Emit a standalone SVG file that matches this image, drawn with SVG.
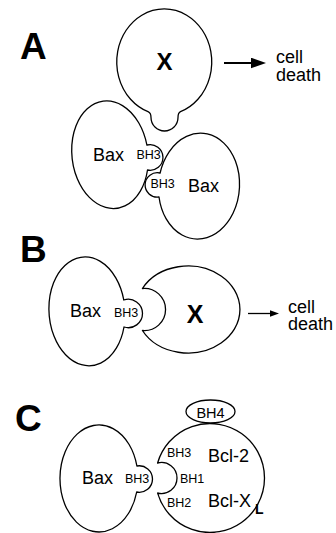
<svg xmlns="http://www.w3.org/2000/svg" width="336" height="533" viewBox="0 0 336 533">
<style>
.s{fill:#fff;stroke:#000;stroke-width:1.3;stroke-linejoin:round}
.t{font-family:"Liberation Sans",Arial,sans-serif;fill:#000}
.lab{font-size:37px;font-weight:bold}
.nm{font-size:18px}
.bh{font-size:12.5px}
.xb{font-size:24px;font-weight:bold}
.ar{stroke:#000;fill:none}
</style>
<defs>
<marker id="ah" viewBox="0 0 7 5" refX="3" refY="2.5" markerWidth="7" markerHeight="5" orient="auto" markerUnits="strokeWidth"><path d="M0,0 L7,2.5 L0,5 z" fill="#000"/></marker>
</defs>
<rect width="336" height="533" fill="#fff"/>

<!-- Panel A -->
<text class="t lab" x="20" y="59">A</text>
<g id="A-X">
<path class="s" d="M148,111.7 A47.5 53 0 1 1 180.5,111.7 Q178,113 178,117.5 A13.5 13.5 0 0 1 151,117.5 Q151,113 148,111.7 Z"/>
<text class="t xb" x="164.5" y="70" text-anchor="middle">X</text>
</g>
<g id="A-Bax1">
<path class="s" d="M146.9,145 A38 54 -7 1 0 147.5,170 A12.84 12.84 0 1 0 146.9,145 Z"/>
<text class="t nm" x="93" y="161">Bax</text>
<text class="t bh" x="136.5" y="159">BH3</text>
</g>
<g id="A-Bax2">
<path class="s" d="M160.1,173 A12.22 12.22 0 1 0 159,197 A40.5 53 4 1 0 160.1,173 Z"/>
<text class="t nm" x="188" y="192">Bax</text>
<text class="t bh" x="150.5" y="188">BH3</text>
</g>
<g id="A-text">
<text class="t nm" x="276" y="63">cell</text>
<text class="t nm" x="276" y="81">death</text>
</g>

<!-- Panel B -->
<text class="t lab" x="20" y="262">B</text>
<g id="B-Bax">
<path class="s" d="M123.8,300 A38 54.5 -4 1 0 124,327 A14.2 14.2 0 1 0 123.8,300 Z"/>
<text class="t nm" x="70" y="317">Bax</text>
<text class="t bh" x="114" y="317">BH3</text>
</g>
<g id="B-X">
<path class="s" d="M142.4,288.5 A52 43.5 0 1 1 142.4,330.5 A21.1 21.1 0 1 0 142.4,288.5 Z"/>
<text class="t xb" x="195" y="323" text-anchor="middle" style="font-size:25px">X</text>
</g>
<g id="B-text">
<text class="t nm" x="288" y="313">cell</text>
<text class="t nm" x="288" y="330">death</text>
</g>

<!-- Panel C -->
<text class="t lab" x="15" y="431">C</text>
<g id="C-Bax">
<path class="s" d="M136.9,466 A39 53.5 0 1 0 136.7,492 A13.23 13.23 0 1 0 136.9,466 Z"/>
<text class="t nm" x="82" y="484">Bax</text>
<text class="t bh" x="125" y="483">BH3</text>
</g>
<g id="C-Bcl">
<path class="s" d="M157.6,463 A54.5 54.5 0 1 1 157.6,493 A15.5 15.5 0 1 0 157.6,463 Z"/>
<text class="t bh" x="167" y="457">BH3</text>
<text class="t bh" x="180" y="483">BH1</text>
<text class="t bh" x="167" y="507">BH2</text>
<text class="t nm" x="208" y="462">Bcl-2</text>
<text class="t nm" x="208" y="507">Bcl-X</text>
<text class="t" x="255" y="514" style="font-size:14px;font-weight:bold">L</text>
</g>
<g id="C-BH4">
<ellipse class="s" cx="210.5" cy="411.5" rx="24.5" ry="11.5"/>
<text class="t" x="210.5" y="418" text-anchor="middle" style="font-size:14.5px">BH4</text>
</g>

<g id="connectors">
<line class="ar" x1="224" y1="63" x2="257.2" y2="63" stroke-width="2.2" marker-end="url(#ah)"/>
<line class="ar" x1="248" y1="313.5" x2="273.8" y2="313.5" stroke-width="1.3" marker-end="url(#ah)"/>
</g>
</svg>
